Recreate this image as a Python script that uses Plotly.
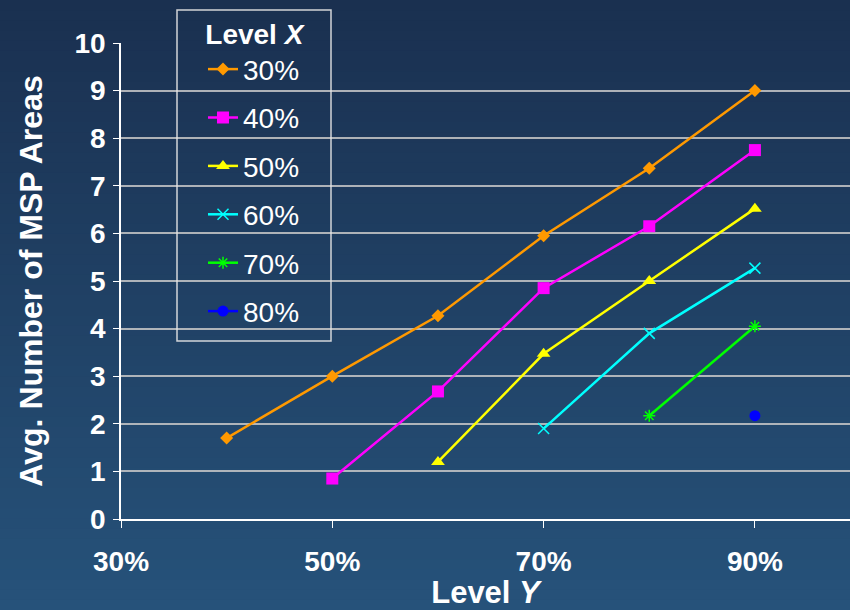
import plotly.graph_objects as go

level_y = [0.4, 0.5, 0.6, 0.7, 0.8, 0.9]
series_names = ["30%", "40%", "50%", "60%", "70%", "80%"]
s30 = [1.7, 3.0, 4.27, 5.95, 7.37, 9.0]
s40 = [None, 0.85, 2.68, 4.85, 6.15, 7.75]
s50 = [None, None, 1.2, 3.47, 5.0, 6.52]
s60 = [None, None, None, 1.9, 3.9, 5.27]
s70 = [None, None, None, None, 2.17, 4.05]
s80 = [None, None, None, None, None, 2.17]
x_ticks = [0.3, 0.5, 0.7, 0.9]

colors = ["#FF9900", "#FF00FF", "#FFFF00", "#00FFFF", "#00FF00", "#0000FF"]
symbols = ["diamond", "square", "triangle-up", "x-thin", "asterisk", "circle"]
sizes = [10, 12, 12, 11, 10, 11]

fig = go.Figure()
for i, (name, vals) in enumerate(zip(series_names, [s30, s40, s50, s60, s70, s80])):
    sym = symbols[i]
    marker = dict(symbol=sym, size=sizes[i], color=colors[i])
    if sym in ("x-thin", "asterisk"):
        marker["line"] = dict(color=colors[i], width=1.5)
    fig.add_trace(go.Scatter(
        x=level_y, y=vals, name=name, mode="lines+markers",
        line=dict(color=colors[i], width=2.5), marker=marker,
        legendgroup=name,
    ))

# plot area in pixels
L, T, B, W, H = 121, 43, 91, 729, 476

def px_x(p):
    return (p - L) / W

def px_y(p):
    return (610 - B - p) / H

# gradient background
top = (26, 48, 80)
bot = (38, 82, 122)
n = 60
y_lo, y_hi = px_y(610), px_y(0)
shapes = []
for k in range(n):
    t = k / (n - 1)
    c = tuple(int(round(bot[j] + (top[j] - bot[j]) * t)) for j in range(3))
    y0 = y_lo + (y_hi - y_lo) * k / n
    y1 = y_lo + (y_hi - y_lo) * (k + 1) / n + 0.002
    shapes.append(dict(type="rect", xref="paper", yref="paper",
                       x0=-0.2, x1=1.1, y0=y0, y1=y1, layer="below",
                       line=dict(width=0), fillcolor="rgb(%d,%d,%d)" % c))
# legend frame
shapes.append(dict(type="rect", xref="paper", yref="paper",
                   x0=px_x(177), x1=px_x(331), y0=px_y(341), y1=px_y(10),
                   layer="above", line=dict(color="rgba(230,230,230,0.9)", width=1.5),
                   fillcolor="rgba(0,0,0,0)"))

font_main = "Liberation Sans, Arial, sans-serif"
fig.update_layout(
    width=850, height=610,
    margin=dict(l=L, r=0, t=T, b=B),
    paper_bgcolor="#1f4062", plot_bgcolor="rgba(0,0,0,0)",
    shapes=shapes,
    font=dict(family=font_main, color="white"),
    xaxis=dict(range=[0.3, 0.99], tickvals=x_ticks, tickformat=".0%",
               showgrid=False, zeroline=False, showline=True, linecolor="white",
               linewidth=1.5, ticks="outside", ticklen=7, tickcolor="white",
               ticklabelstandoff=10,
               tickfont=dict(size=28, family=font_main, color="white", weight="bold"),
               title=dict(text="<b>Level <i>Y</i></b>", font=dict(size=31), standoff=8)),
    yaxis=dict(range=[0, 10], dtick=1, showgrid=True, gridcolor="rgba(200,200,200,0.85)",
               gridwidth=1.5, zeroline=False, showline=True, linecolor="white",
               linewidth=1.5, ticks="outside", ticklen=6, tickcolor="white",
               ticklabelstandoff=2,
               tickfont=dict(size=28, family=font_main, color="white", weight="bold"),
               title=dict(text="<b>Avg. Number of MSP Areas</b>", font=dict(size=32), standoff=22)),
    legend=dict(x=px_x(203), y=px_y(8), xanchor="left", yanchor="top",
                bgcolor="rgba(0,0,0,0)", borderwidth=0,
                font=dict(size=28, color="white"),
                title=dict(text="<b>Level <i>X</i></b>", font=dict(size=28), side="top center"),
                tracegroupgap=9, itemwidth=30, maxheight=400),
    showlegend=True,
)

fig.write_html("out.html")
